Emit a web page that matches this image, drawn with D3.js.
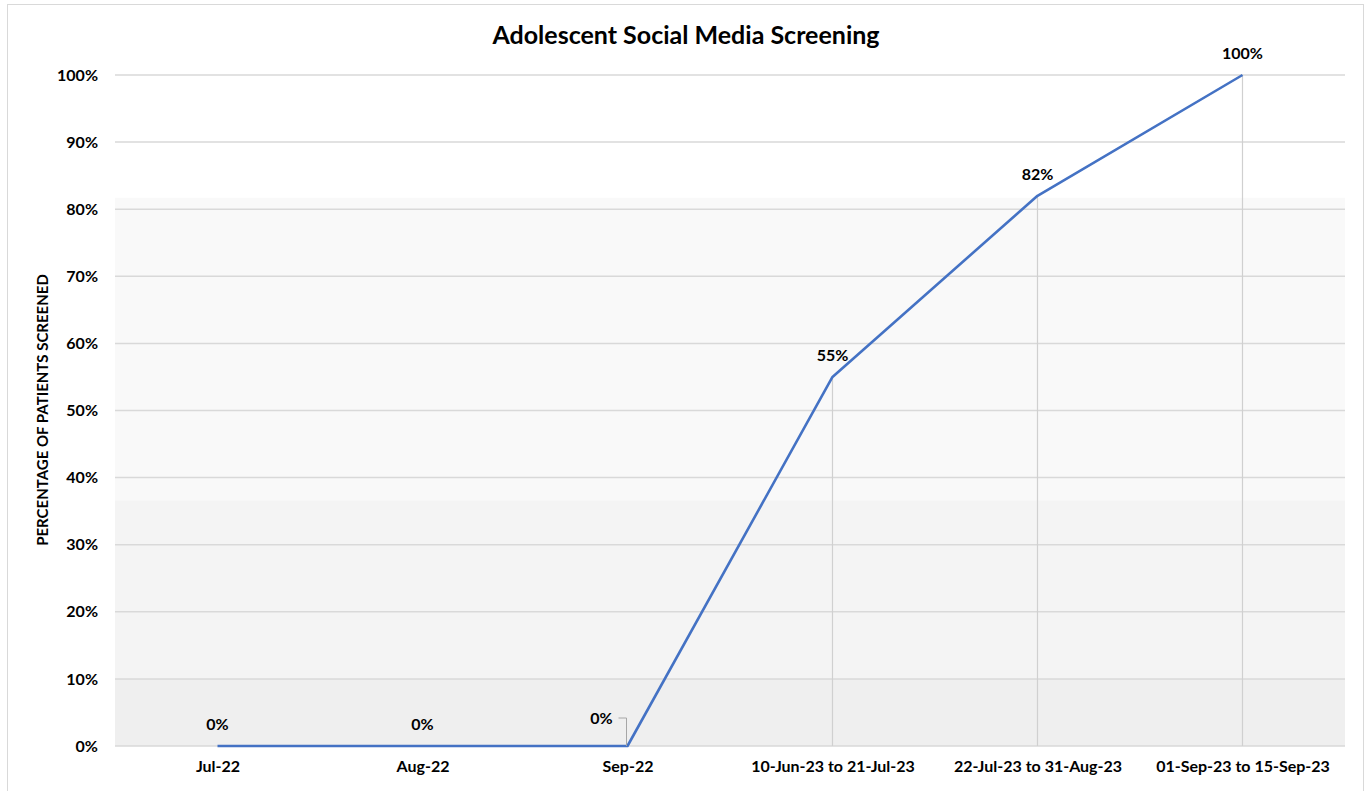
<!DOCTYPE html>
<html lang="en">
<head>
	<meta charset="utf-8">
	<title>Adolescent Social Media Screening</title>
	<script src="https://d3js.org/d3.v7.min.js"></script>
	<style type="text/css">
		body { margin: 0; background: #fff; }
		text { font-family: Lato, "Open Sans", sans-serif; font-weight: bold; fill: #000; }
		.grid line { stroke: #d9d9d9; stroke-width: 1.5; }
		.Axis path, .Axis line { display: none; }
	</style>
</head>
<body>
	<svg id="placeholder1"></svg>
	<script type="text/javascript">
		// data
		var categories = ["Jul-22", "Aug-22", "Sep-22", "10-Jun-23 to 21-Jul-23", "22-Jul-23 to 31-Aug-23", "01-Sep-23 to 15-Sep-23"]
		var screened = [0, 0, 0, 55, 82, 100]
		var yTicks = [0, 10, 20, 30, 40, 50, 60, 70, 80, 90, 100]
		var title = "Adolescent Social Media Screening"
		var yTitle = "PERCENTAGE OF PATIENTS SCREENED"

		var lineColor = "#4472c4"

		var wholeW = 1372, wholeH = 791
		var margin = {left: 115, right: 27, top: 75, bottom: 45}
		var width = wholeW - margin.left - margin.right
		var height = wholeH - margin.top - margin.bottom

		var svg0 = d3.select("#placeholder1").attr("width", wholeW).attr("height", wholeH)

		// outer border
		svg0.append("rect")
			.attr("x", 7.5).attr("y", 4.5)
			.attr("width", 1356).attr("height", 800)
			.attr("fill", "none").attr("stroke", "#d9d9d9")

		var svg = svg0.append("g").attr("transform", "translate(" + margin.left + "," + margin.top + ")")

		var xScale = d3.scalePoint().domain(categories).range([0, width]).padding(0.5)
		var yScale = d3.scaleLinear().domain([0, 100]).range([height, 0])

		// shaded backdrop
		var bands = [
			{from: 81.7, to: 100, c: "#ffffff"},
			{from: 36.6, to: 81.7, c: "#f9f9f9"},
			{from: 10, to: 36.6, c: "#f4f4f4"},
			{from: 0, to: 10, c: "#efefef"}
		]
		svg.selectAll(".band").data(bands).join("rect")
			.attr("x", 0).attr("width", width)
			.attr("y", d => yScale(d.to))
			.attr("height", d => yScale(d.from) - yScale(d.to))
			.attr("fill", d => d.c)

		// gridlines
		svg.append("g").attr("class", "grid")
			.selectAll("line").data(yTicks).join("line")
			.attr("x1", 0).attr("x2", width)
			.attr("y1", d => yScale(d)).attr("y2", d => yScale(d))

		// drop lines
		svg.selectAll(".drop").data(screened.map((v, i) => ({c: categories[i], v: v})).filter(d => d.v > 0))
			.join("line")
			.attr("x1", d => xScale(d.c)).attr("x2", d => xScale(d.c))
			.attr("y1", d => yScale(d.v)).attr("y2", height)
			.attr("stroke", "#d0d0d0").attr("stroke-width", 1.2)

		// axes
		var yAxis = d3.axisLeft(yScale).tickValues(yTicks).tickFormat(d => d + "%").tickSize(0).tickPadding(17)
		svg.append("g").attr("class", "y Axis").call(yAxis)
			.selectAll("text").style("font-size", "16px").style("font-family", "Lato, sans-serif")

		var xAxis = d3.axisBottom(xScale).tickSize(0).tickPadding(15)
		svg.append("g").attr("class", "x Axis")
			.attr("transform", "translate(0," + height + ")")
			.call(xAxis)
			.selectAll("text").style("font-size", "16px").style("font-family", "Lato, sans-serif")

		// line
		var data = categories.map((c, i) => ({c: c, v: screened[i]}))
		var line = d3.line().x(d => xScale(d.c)).y(d => yScale(d.v))
		svg.append("path")
			.attr("d", line(data))
			.attr("fill", "none")
			.attr("stroke", lineColor)
			.attr("stroke-width", 2.6)
			.attr("stroke-linejoin", "round")

		// data labels
		var sepX = xScale(categories[2])
		svg.selectAll(".lbl").data(data).join("text")
			.attr("x", (d, i) => i === 2 ? sepX - 26 : xScale(d.c))
			.attr("y", (d, i) => i === 2 ? yScale(d.v) - 22 : yScale(d.v) - 16)
			.attr("text-anchor", "middle")
			.style("font-size", "16px")
			.text(d => d.v + "%")

		// leader line for Sep-22 label
		svg.append("path")
			.attr("d", "M" + (sepX - 9) + "," + (height - 28) + "H" + (sepX - 1) + "V" + height)
			.attr("fill", "none").attr("stroke", "#a6a6a6").attr("stroke-width", 1)

		// title
		svg0.append("text")
			.attr("x", 686).attr("y", 44)
			.attr("text-anchor", "middle")
			.style("font-size", "25px")
			.text(title)

		// y axis title
		svg0.append("text")
			.attr("transform", "translate(48,410) rotate(-90)")
			.attr("text-anchor", "middle")
			.style("font-size", "15px")
			.text(yTitle)
	</script>
</body>
</html>
